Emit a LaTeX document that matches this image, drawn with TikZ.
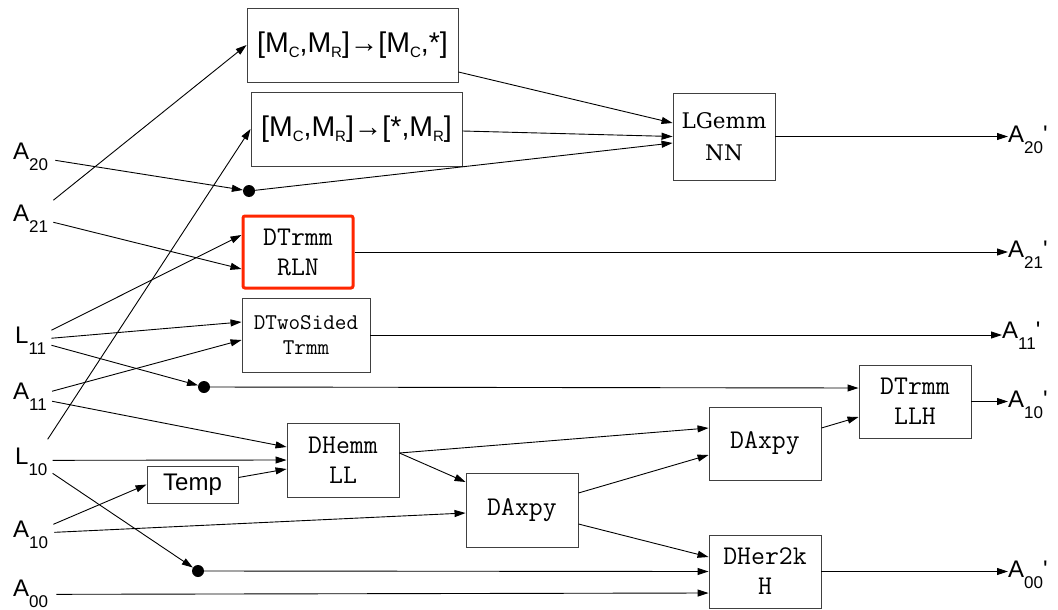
\documentclass[tikz,border=0pt]{standalone}
\usepackage{fontspec}
\setmainfont{Liberation Sans}
\newfontfamily\boxserif{DejaVu Serif}
\usetikzlibrary{arrows.meta, calc}
\definecolor{flow-red}{RGB}{255,38,0}
\newcommand\lsub[1]{\raisebox{-11pt}{\fontsize{17}{17}\selectfont #1}}
\newcommand\msub[1]{\raisebox{-5pt}{\fontsize{15}{15}\selectfont #1}}

\begin{document}
\begin{tikzpicture}[x=1pt, y=-1pt,
  block/.style={draw=black!75, line width=0.9pt, minimum width=112pt, minimum height=74pt, inner sep=0pt, align=center, font=\ttfamily\fontsize{27}{30}\selectfont},
  lbl/.style={anchor=base west, inner sep=0pt, font=\fontsize{24}{24}\selectfont},
  joint/.style={circle, fill=black, minimum size=12pt, inner sep=0pt},
  arr/.style={-{Triangle[length=11pt,width=7pt]}, line width=0.9pt},
]
  \useasboundingbox (0,0) rectangle (1058,610);

  \node[block, minimum width=211pt, font=\fontsize{28.5}{28.5}\selectfont] (tocol) at (352.5,45) {[M\msub{C},M\msub{R}]→[M\msub{C},*]};
  \node[block, minimum width=211pt, font=\fontsize{28.5}{28.5}\selectfont] (torow) at (356.5,129) {[M\msub{C},M\msub{R}]→[*,M\msub{R}]};
  \node[block, minimum width=102pt, minimum height=87pt, font=\boxserif\fontsize{21.5}{32}\selectfont] (lgemm) at (724,136.5) {LGemm\\NN};
  \node[block, draw=flow-red, line width=3pt, rounded corners=2pt, minimum width=110pt, minimum height=72pt] (trmmrln) at (298,252) {DTrmm\\RLN};
  \node[block, minimum width=128pt, font=\ttfamily\fontsize{22.5}{25}\selectfont] (twosided) at (306,335) {DTwoSided\\Trmm};
  \node[block] (hemm) at (343,460) {DHemm\\LL};
  \node[block, minimum width=91pt, minimum height=37pt, font=\fontsize{24}{24}\selectfont] (temp) at (192.5,484.5) {Temp};
  \node[block] (axpyA) at (522,510) {DAxpy};
  \node[block, minimum height=73pt] (axpyB) at (765,443.5) {DAxpy};
  \node[block, minimum height=73pt] (trmmllh) at (915,401.5) {DTrmm\\LLH};
  \node[block, minimum height=73pt] (her2k) at (765,571.5) {DHer2k\\H};

  \node[lbl] (a20) at (13,159) {A\lsub{20}};
  \node[lbl] (a21) at (13,221) {A\lsub{21}};
  \node[lbl] (l11) at (15,343) {L\lsub{11}};
  \node[lbl] (a11) at (13,399) {A\lsub{11}};
  \node[lbl] (l10) at (15,464) {L\lsub{10}};
  \node[lbl] (a10) at (13,537) {A\lsub{10}};
  \node[lbl] (a00) at (13,596) {A\lsub{00}};

  \node[lbl] (a20o) at (1008,142) {A\lsub{20}\textquotesingle};
  \node[lbl] (a21o) at (1008,257) {A\lsub{21}\textquotesingle};
  \node[lbl] (a11o) at (1002,338) {A\lsub{11}\textquotesingle};
  \node[lbl] (a10o) at (1008,407) {A\lsub{10}\textquotesingle};
  \node[lbl] (a00o) at (1008,577) {A\lsub{00}\textquotesingle};

  \node[joint] (jA) at (249,191) {};
  \node[joint] (jB) at (204,387) {};
  \node[joint] (jC) at (198,571) {};

  \draw[arr] ($(a20.east)+(7,4)$) -- (jA);
  \draw[arr] ($(a21.east)+(5,-18)$) -- (tocol.west);
  \draw[arr] ($(a21.east)+(5,4)$) -- ($(trmmrln.west)+(0,17)$);
  \draw[arr] ($(l11.east)+(5,-10)$) -- ($(trmmrln.west)+(0,-17)$);
  \draw[arr] ($(l11.east)+(5,-2)$) -- ($(twosided.west)+(0,-13)$);
  \draw[arr] ($(l11.east)+(5,5)$) -- (jB);
  \draw[arr] ($(a11.east)+(5,-5)$) -- ($(twosided.west)+(0,5)$);
  \draw[arr] ($(a11.east)+(5,5)$) -- ($(hemm.west)+(0,-13)$);
  \draw[arr] ($(l10.east)+(0,-22)$) -- (torow.west);
  \draw[arr] ($(l10.east)+(5,-1)$) -- (hemm.west);
  \draw[arr] ($(l10.east)+(5,12)$) -- (jC);
  \draw[arr] ($(a10.east)+(5,-10)$) -- (temp.west);
  \draw[arr] ($(a10.east)+(6,-2)$) -- ($(axpyA.west)+(0,3)$);
  \draw[arr] ($(a00.east)+(8,1)$) -- ($(her2k.west)+(0,21.5)$);

  \draw[arr] ($(temp.east)+(0,-7)$) -- ($(hemm.west)+(0,9)$);
  \draw[arr] (jA) -- ($(lgemm.west)+(0,6.5)$);
  \draw[arr] ($(tocol.east)+(0,27)$) -- ($(lgemm.west)+(0,-13.5)$);
  \draw[arr] ($(torow.east)+(0,2)$) -- (lgemm.west);
  \draw[arr] (jB) -- ($(trmmllh.west)+(0,-13.5)$);
  \draw[arr] (jC) -- (her2k.west);
  \draw[arr] ($(hemm.east)+(0,-7)$) -- ($(axpyB.west)+(0,-15.5)$);
  \draw[arr] ($(hemm.east)+(0,-7)$) -- ($(axpyA.west)+(0,-28)$);
  \draw[arr] ($(axpyA.east)+(0,-17)$) -- ($(axpyB.west)+(0,11.5)$);
  \draw[arr] ($(axpyA.east)+(0,14)$) -- ($(her2k.west)+(0,-14.5)$);
  \draw[arr] ($(axpyB.east)+(0,-15.5)$) -- ($(trmmllh.west)+(0,15.5)$);

  \draw[arr] (lgemm.east) -- (lgemm.east -| a20o.west);
  \draw[arr] (trmmrln.east) -- (trmmrln.east -| a21o.west);
  \draw[arr] (twosided.east) -- (twosided.east -| a11o.west);
  \draw[arr] (trmmllh.east) -- (trmmllh.east -| a10o.west);
  \draw[arr] (her2k.east) -- (her2k.east -| a00o.west);
\end{tikzpicture}
\end{document}
